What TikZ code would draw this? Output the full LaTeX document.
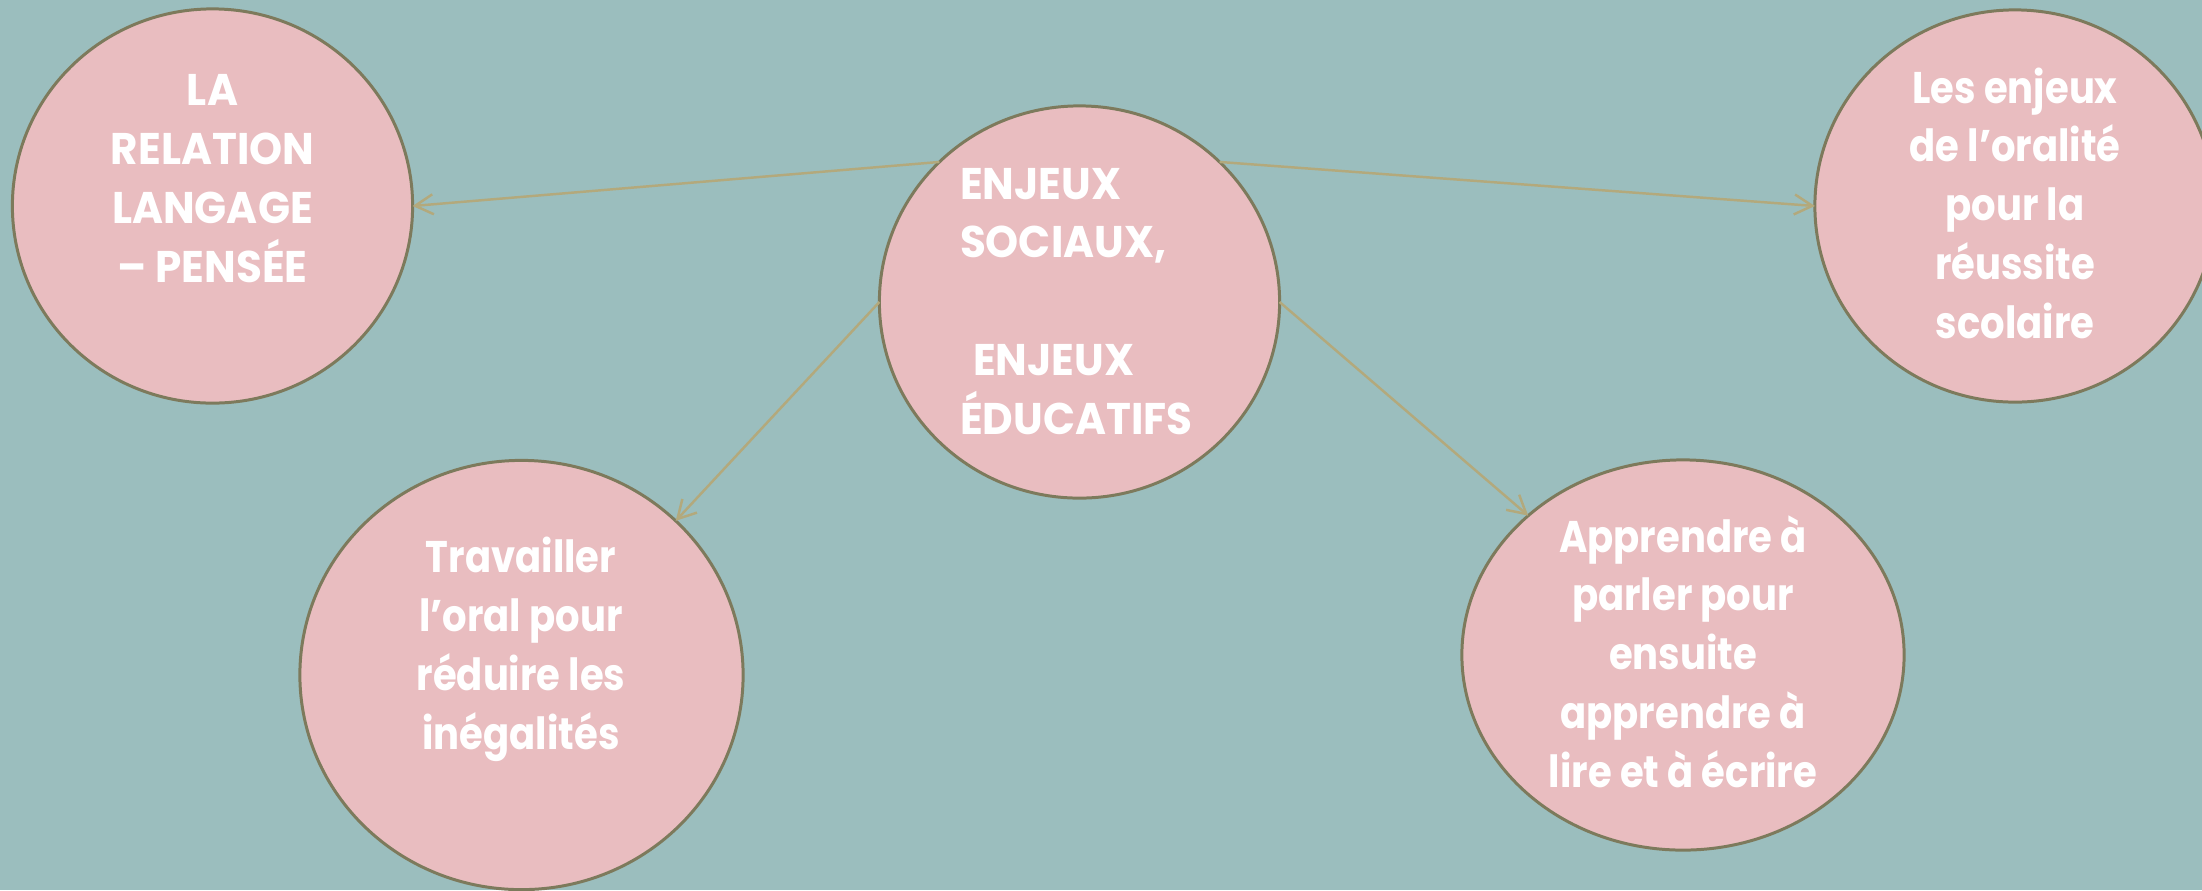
\documentclass[tikz,border=0pt]{standalone}
\usepackage{fontspec}
\newfontfamily\pfont{Poppins}[FakeStretch=0.87]
\newfontfamily\pcapsfont{Poppins}[FakeStretch=0.95]
\usetikzlibrary{shapes.geometric,arrows.meta}
\definecolor{bgc}{HTML}{9BBEBE}
\definecolor{fillc}{HTML}{E9BDC0}
\definecolor{rimc}{HTML}{7D7A5C}
\definecolor{arrc}{HTML}{B3A97C}
\tikzset{
  bubble/.style={ellipse, draw=rimc, fill=fillc, line width=0.85pt, inner sep=0pt, outer sep=0pt},
  label text/.style={text=white, font=\pfont\bfseries\fontsize{12.6}{16.7}\selectfont, inner sep=0pt, outer sep=0pt},
  caps text/.style={label text, font=\pcapsfont\bfseries\fontsize{12.6}{16.7}\selectfont},
  link/.style={draw=arrc, line width=0.7pt, -{Straight Barb[length=0.18cm,width=0.2cm]}},
}
\begin{document}
\begin{tikzpicture}[x=0.01cm,y=-0.01cm]
\clip (0,0) rectangle (2202,890);
\fill[bgc] (0,0) rectangle (2202,890);
\useasboundingbox (0,0) rectangle (2202,890);

\node[bubble, minimum width=4.0cm, minimum height=3.94cm] (l) at (212.5,206) {};
\node[bubble, minimum width=4.0cm, minimum height=3.92cm] (c) at (1079.5,302) {};
\node[bubble, minimum width=4.0cm, minimum height=3.92cm] (r) at (2015,206) {};
\node[bubble, minimum width=4.43cm, minimum height=4.29cm] (bl) at (521.5,675) {};
\node[bubble, minimum width=4.42cm, minimum height=3.90cm] (br) at (1683,655) {};

\node[caps text, align=center, anchor=base] (lt) at (212.5,282) {LA\\RELATION\\LANGAGE\\– PENSÉE};
\node[caps text, align=left, anchor=base west] (ct) at (960,434) {ENJEUX\\SOCIAUX,\\\mbox{}\\\hspace*{0.13cm}ENJEUX\\ÉDUCATIFS};
\node[label text, align=center, anchor=base] (rt) at (2015,338) {Les enjeux\\de l’oralité\\pour la\\réussite\\scolaire};
\node[label text, align=center, anchor=base] (blt) at (521,749) {Travailler\\l’oral pour\\réduire les\\inégalités};
\node[label text, align=center, anchor=base] (brt) at (1683,787) {Apprendre à\\parler pour\\ensuite\\apprendre à\\lire et à écrire};

\draw[link] (c.135) -- (l.east);
\draw[link] (c.45) -- (r.west);
\draw[link] (c.west) -- (bl.45);
\draw[link] (c.east) -- (br.138);
\end{tikzpicture}
\end{document}
